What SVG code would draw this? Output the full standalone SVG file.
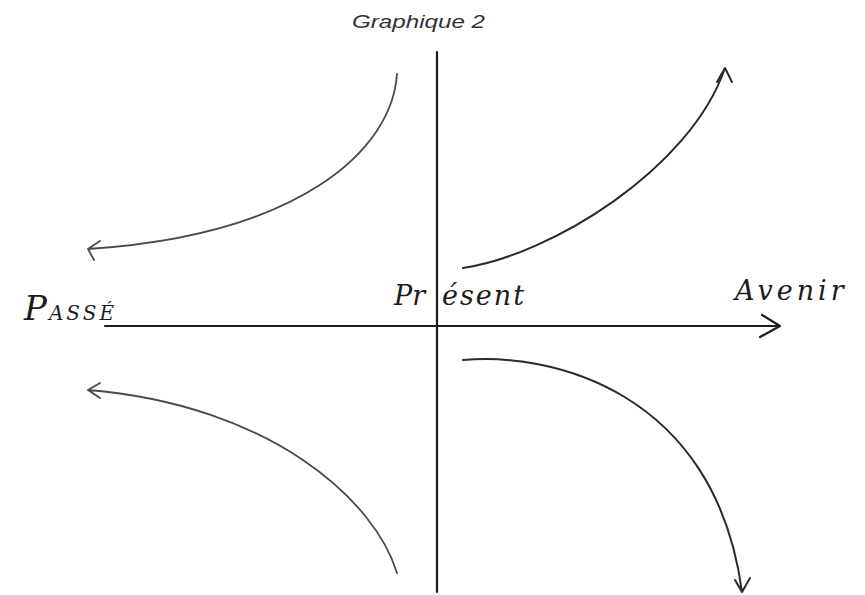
<svg xmlns="http://www.w3.org/2000/svg" width="865" height="595" viewBox="0 0 865 595">
<style>
.ax{stroke:#1c1c1c;stroke-width:2.2;fill:none;stroke-linecap:round;stroke-linejoin:round}
.cv{stroke:#2a2a2a;stroke-width:2;fill:none;stroke-linecap:round;stroke-linejoin:round}
.cvl{stroke:#4a4a4a;stroke-width:1.8;fill:none;stroke-linecap:round;stroke-linejoin:round}
.hand{font-family:"DejaVu Serif","Liberation Serif",serif;font-style:italic;fill:#1c1c1c}
.title{font-family:"Liberation Sans",Arial,sans-serif;font-style:italic;font-size:18.5px;fill:#333}
</style>
<rect width="865" height="595" fill="#ffffff"/>
<text class="title" x="352" y="28" textLength="133" lengthAdjust="spacingAndGlyphs">Graphique 2</text>
<g id="axes">
<path class="ax" d="M437,52 L437,592"/>
<path class="ax" d="M105,326 L780,326 M762,315 L780,326 L760,337"/>
</g>
<g id="curves">
<path class="cvl" d="M397,74 C392,150 300,235 88,249 M100,241 L88,249 L94,260"/>
<path class="cv" d="M463,268 C550,255 690,170 725,68 M717,82 L725,68 L732,82"/>
<path class="cvl" d="M397,573 C375,500 270,405 88,390 M100,383 L88,390 L100,398"/>
<path class="cv" d="M463,360 C550,352 715,390 742,592 M735,580 L742,592 L750,578"/>
</g>
<g id="labels">
<text class="hand" y="320"><tspan x="24" font-size="34">P</tspan><tspan font-size="20" dx="2" letter-spacing="3">ASSÉ</tspan></text>
<text class="hand" y="305" font-size="27"><tspan x="394">Pr</tspan><tspan x="442" letter-spacing="2">ésent</tspan></text>
<text class="hand" x="735" y="300" font-size="27" letter-spacing="4">Avenir</text>
</g>
</svg>
